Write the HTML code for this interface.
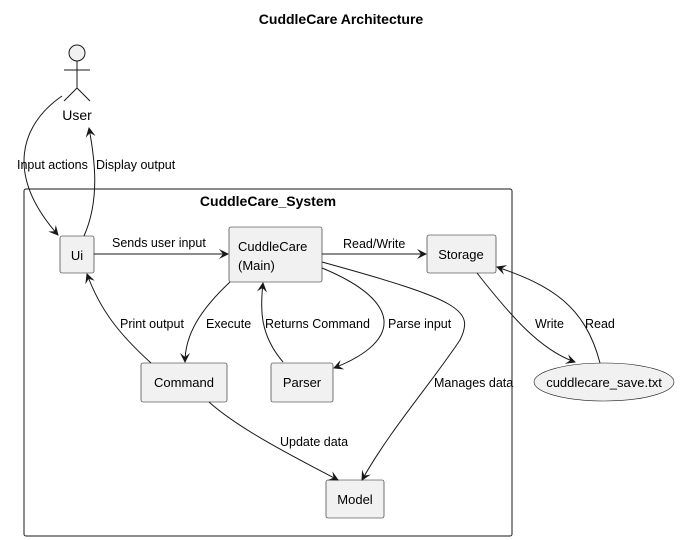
<!DOCTYPE html>
<html><head><meta charset="utf-8"><style>
body{margin:0;background:#fff}
svg{display:block;font-family:"Liberation Sans",sans-serif}
</style></head><body>
<svg width="683" height="540" viewBox="0 0 683 540">
<defs><marker id="a" viewBox="0 0 10 10" refX="9" refY="5" markerWidth="10" markerHeight="10" markerUnits="userSpaceOnUse" orient="auto"><path d="M0,0 L10,5 L0,10 L4,5 Z" fill="#181818"/></marker></defs>
<text x="341" y="24" text-anchor="middle" font-size="14" font-weight="bold">CuddleCare Architecture</text>
<g stroke="#181818" fill="none" stroke-width="1">
<circle cx="77" cy="53" r="8" fill="#f1f1f1"/>
<path d="M77 61V88M64 70H90M77 88L64 101M77 88L90 101"/>
<rect x="24" y="189" width="488" height="347" rx="2"/>
</g>
<text x="77" y="120" text-anchor="middle" font-size="14">User</text>
<text x="268" y="206" text-anchor="middle" font-size="14" font-weight="bold">CuddleCare_System</text>
<g fill="#f1f1f1" stroke="#181818" stroke-width="0.6">
<rect x="60" y="236" width="34" height="37" rx="2"/>
<rect x="229" y="227" width="93" height="55" rx="2"/>
<rect x="427" y="235" width="69" height="38" rx="2"/>
<rect x="141" y="363" width="86" height="39" rx="2"/>
<rect x="271" y="363" width="62" height="39" rx="2"/>
<rect x="326" y="480" width="58" height="38" rx="2"/>
<ellipse cx="604" cy="382" rx="70" ry="19"/>
</g>
<g font-size="13" fill="#000">
<text x="77" y="260" text-anchor="middle">Ui</text>
<text x="238" y="251">CuddleCare</text><text x="238" y="270">(Main)</text>
<text x="461" y="259" text-anchor="middle">Storage</text>
<text x="184" y="387" text-anchor="middle">Command</text>
<text x="302" y="387" text-anchor="middle">Parser</text>
<text x="355" y="504" text-anchor="middle">Model</text>
<text x="604" y="387" text-anchor="middle">cuddlecare_save.txt</text>
</g>
<g stroke="#181818" fill="none" stroke-width="1" marker-end="url(#a)">
<path d="M62 96C20 125 5 175 58 235"/>
<path d="M84 236C100 200 95 160 89 128"/>
<path d="M94 254H228"/>
<path d="M322 254H426"/>
<path d="M151 363C120 335 100 310 87 274"/>
<path d="M230 282C200 310 185 335 185 362"/>
<path d="M283 362C260 335 260 310 263 283"/>
<path d="M322 268C400 300 405 340 334 368"/>
<path d="M322 262C460 300 475 310 460 340C430 385 390 430 362 480"/>
<path d="M477 273C510 315 540 350 575 362"/>
<path d="M600 363C585 305 550 285 497 267"/>
<path d="M209 402C240 430 300 460 338 480"/>
</g>
<g font-size="12.5" fill="#000">
<text x="17" y="169">Input actions</text>
<text x="96" y="169">Display output</text>
<text x="112" y="247">Sends user input</text>
<text x="343" y="248">Read/Write</text>
<text x="120" y="328">Print output</text>
<text x="206" y="328">Execute</text>
<text x="265" y="328">Returns Command</text>
<text x="388" y="328">Parse input</text>
<text x="434" y="387">Manages data</text>
<text x="535" y="328">Write</text>
<text x="585" y="328">Read</text>
<text x="280" y="446">Update data</text>
</g>
</svg>
</body></html>
